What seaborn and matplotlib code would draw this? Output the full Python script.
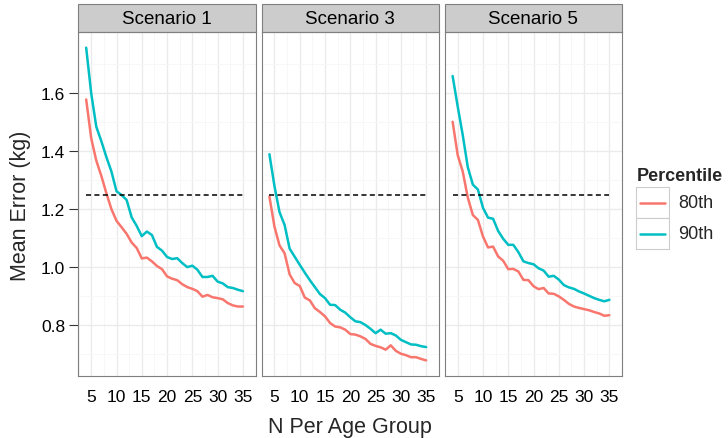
# plot.py
# Mean error vs N per age group, faceted by scenario (ggplot-like look with seaborn)

import numpy as np
import pandas as pd
import matplotlib.pyplot as plt
import seaborn as sns
from matplotlib.patches import Rectangle
from matplotlib.lines import Line2D

# ------------- data ---------------------------------
n_per_group = [4, 5, 6, 7, 8, 9, 10, 11, 12, 13, 14, 15, 16, 17, 18, 19,
               20, 21, 22, 23, 24, 25, 26, 27, 28, 29, 30, 31, 32, 33, 34, 35]
scenarios = ["Scenario 1", "Scenario 3", "Scenario 5"]
percentiles = ["80th", "90th"]
colours = ["#F8766D", "#00BFC4"]
target = 1.25
x_ticks = [5, 10, 15, 20, 25, 30, 35]
y_ticks = [0.8, 1.0, 1.2, 1.4, 1.6]

s1_80 = [1.579, 1.445, 1.368, 1.315, 1.255, 1.200, 1.160, 1.138, 1.115, 1.085, 1.066, 1.030,
         1.033, 1.020, 1.004, 0.993, 0.968, 0.960, 0.955, 0.941, 0.931, 0.925, 0.917, 0.898,
         0.904, 0.896, 0.893, 0.889, 0.876, 0.868, 0.864, 0.864]
s1_90 = [1.758, 1.600, 1.485, 1.435, 1.380, 1.330, 1.262, 1.249, 1.232, 1.172, 1.142, 1.107,
         1.123, 1.111, 1.070, 1.057, 1.035, 1.028, 1.031, 1.014, 1.000, 1.005, 0.991, 0.966,
         0.966, 0.970, 0.950, 0.944, 0.931, 0.928, 0.922, 0.917]
s3_80 = [1.244, 1.140, 1.075, 1.048, 0.975, 0.945, 0.935, 0.895, 0.885, 0.858, 0.845, 0.830,
         0.807, 0.795, 0.792, 0.784, 0.769, 0.767, 0.761, 0.752, 0.735, 0.728, 0.723, 0.715,
         0.730, 0.711, 0.701, 0.696, 0.689, 0.689, 0.683, 0.678]
s3_90 = [1.390, 1.280, 1.190, 1.146, 1.064, 1.036, 1.008, 0.981, 0.955, 0.931, 0.907, 0.893,
         0.870, 0.869, 0.853, 0.843, 0.827, 0.813, 0.810, 0.800, 0.787, 0.772, 0.784, 0.770,
         0.772, 0.764, 0.749, 0.741, 0.733, 0.732, 0.727, 0.724]
s5_80 = [1.502, 1.387, 1.330, 1.240, 1.180, 1.163, 1.106, 1.068, 1.071, 1.037, 1.022, 0.993,
         0.994, 0.985, 0.956, 0.955, 0.934, 0.924, 0.928, 0.909, 0.908, 0.899, 0.887, 0.873,
         0.864, 0.859, 0.855, 0.851, 0.845, 0.840, 0.832, 0.834]
s5_90 = [1.660, 1.555, 1.456, 1.345, 1.285, 1.268, 1.205, 1.171, 1.167, 1.125, 1.098, 1.077,
         1.077, 1.052, 1.020, 1.014, 1.010, 0.996, 0.988, 0.967, 0.970, 0.957, 0.938, 0.930,
         0.925, 0.916, 0.909, 0.901, 0.893, 0.887, 0.882, 0.887]

values = {("Scenario 1", "80th"): s1_80, ("Scenario 1", "90th"): s1_90,
          ("Scenario 3", "80th"): s3_80, ("Scenario 3", "90th"): s3_90,
          ("Scenario 5", "80th"): s5_80, ("Scenario 5", "90th"): s5_90}

rows = []
for (sc, pc), vals in values.items():
    for n, v in zip(n_per_group, vals):
        rows.append({"scenario": sc, "Percentile": pc, "n": n, "error": v})
df = pd.DataFrame(rows)

# ------------- style --------------
sns.set_style("white")
plt.rcParams["font.family"] = ["Liberation Sans", "DejaVu Sans"]

fig, axes = plt.subplots(ncols=3, sharey=True, figsize=(7.28, 4.39), dpi=100)
fig.subplots_adjust(left=0.1076, right=0.8544, top=0.9248, bottom=0.1412, wspace=0.034)

# ggplot style expansion (5%)
all_vals = np.concatenate([np.array(v) for v in values.values()])
xr = max(n_per_group) - min(n_per_group)
yr = all_vals.max() - all_vals.min()
xlim = (min(n_per_group) - 0.05 * xr, max(n_per_group) + 0.05 * xr)
ylim = (all_vals.min() - 0.05 * yr, all_vals.max() + 0.05 * yr)

strip_h = 28 / 344
for ax, sc in zip(axes, scenarios):
    sub = df[df["scenario"] == sc]
    sns.lineplot(data=sub, x="n", y="error", hue="Percentile", hue_order=percentiles,
                 palette=colours, linewidth=1.8, legend=False, ax=ax, zorder=3)
    ax.hlines(target, min(n_per_group), max(n_per_group), colors="black",
              linewidth=1.1, linestyles=(0, (3.3, 2.2)), zorder=4)
    ax.set_xlim(xlim)
    ax.set_ylim(ylim)
    ax.set_xticks(x_ticks)
    ax.set_xticks([t - 2.5 for t in x_ticks] + [37.5], minor=True)
    ax.set_yticks(y_ticks)
    ax.set_yticks([t - 0.1 for t in y_ticks] + [1.7], minor=True)
    ax.set_yticklabels([f"{t:.1f}" for t in y_ticks])
    ax.grid(which="major", color="#EBEBEB", linewidth=1.0, zorder=0)
    ax.grid(which="minor", color="#F7F7F7", linewidth=0.7, zorder=0)
    ax.set_axisbelow(True)
    ax.tick_params(which="major", direction="out", length=6.5, width=0.8, color="#333333",
                   labelsize=12.5, labelcolor="black", pad=3)
    ax.tick_params(which="minor", length=0)
    ax.tick_params(axis="y", left=(ax is axes[0]))
    ax.set_xlabel("")
    ax.set_ylabel("")
    for s in ax.spines.values():
        s.set_color("#7F7F7F")
        s.set_linewidth(0.8)
    # facet strip
    ax.add_patch(Rectangle((0, 1), 1, strip_h, transform=ax.transAxes, clip_on=False,
                           facecolor="#CCCCCC", edgecolor="#7F7F7F", linewidth=0.8))
    ax.text(0.5, 1 + strip_h / 2, sc, transform=ax.transAxes, ha="center", va="center",
            fontsize=13.5, color="black")

# axis titles
fig.text(21 / 728, 1 - 206 / 439, "Mean Error (kg)", rotation=90, ha="center",
         va="center", fontsize=15.5)
fig.text(350 / 728, 1 - 433 / 439, "N Per Age Group", ha="center", va="baseline",
         fontsize=15.5)

# legend (ggplot-like keys with boxes)
W, H = 728, 439
fig.text(637 / W, 1 - 177 / H, "Percentile", fontweight="bold", fontsize=13,
         ha="left", va="center")
for i, (lab, col) in enumerate(zip(percentiles, colours)):
    top = 188 + i * 31
    fig.patches.append(Rectangle((636 / W, 1 - (top + 31) / H), 33 / W, 31 / H,
                                 transform=fig.transFigure, facecolor="white",
                                 edgecolor="#CCCCCC", linewidth=0.8))
    yc = 1 - (top + 15.5) / H
    fig.lines.append(Line2D([640 / W, 665 / W], [yc, yc], transform=fig.transFigure,
                            color=col, linewidth=1.8))
    fig.text(678 / W, yc, lab, fontsize=13, ha="left", va="center")

plt.savefig("out.png", dpi=100)
